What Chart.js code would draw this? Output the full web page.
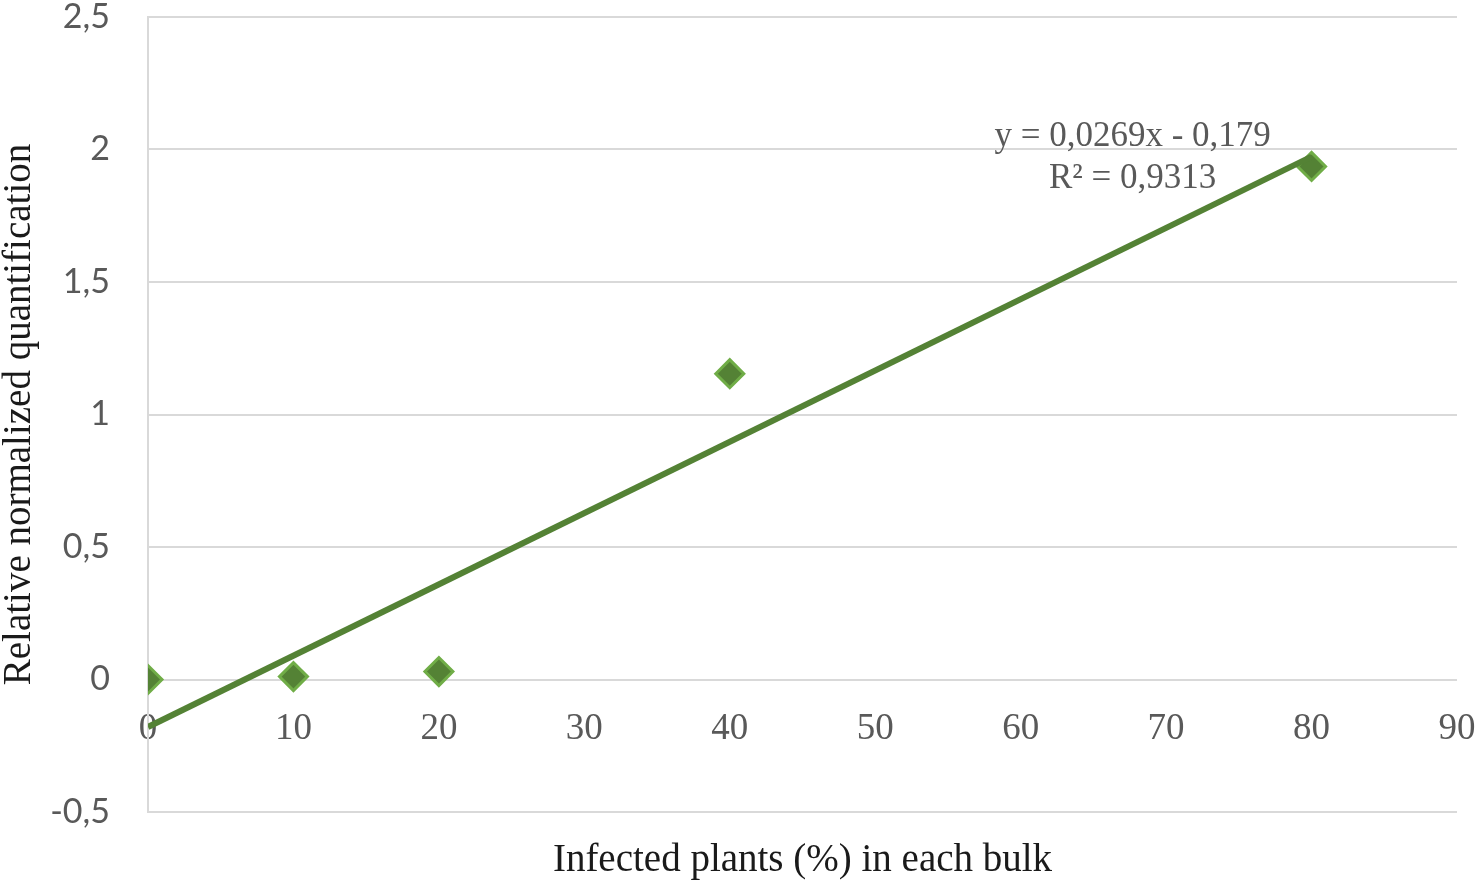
<!DOCTYPE html>
<html>
<head>
<meta charset="utf-8">
<script src="https://cdn.jsdelivr.net/npm/chart.js@4/dist/chart.umd.min.js"></script>
<style>
html,body{margin:0;padding:0;background:#fff;}
#wrap{width:1476px;height:880px;position:relative;}
</style>
</head>
<body>
<div id="wrap"><canvas id="c"></canvas></div>
<script>
// ---- data ----
const xValues = [0, 10, 20, 40, 80];
const yValues = [0, 0.011, 0.03, 1.154, 1.936];
const trendSlope = 0.0269;
const trendIntercept = -0.179;
const trendRange = [0, 80];
const xTickLabels = ['0','10','20','30','40','50','60','70','80','90'];
const yTickLabels = ['-0,5','0','0,5','1','1,5','2','2,5'];
const eqLines = ['y = 0,0269x - 0,179', 'R\u00B2 = 0,9313'];
const eqAnchor = {x: 67.7, y: [2.049, 1.891]};
const xTitle = 'Infected plants (%) in each bulk';
const yTitle = 'Relative normalized quantification';

const points = xValues.map((x, i) => ({x: x, y: yValues[i]}));
const trend = trendRange.map(x => ({x: x, y: trendSlope * x + trendIntercept}));

const SERIF = '"Liberation Serif", "Times New Roman", serif';

const eqPlugin = {
  id: 'eqLabel',
  afterDatasetsDraw(chart) {
    const ctx = chart.ctx, xs = chart.scales.x, ys = chart.scales.y;
    ctx.save();
    ctx.font = '35px ' + SERIF;
    ctx.fillStyle = '#595959';
    ctx.textAlign = 'center';
    ctx.textBaseline = 'middle';
    eqLines.forEach((t, i) => {
      ctx.fillText(t, xs.getPixelForValue(eqAnchor.x), ys.getPixelForValue(eqAnchor.y[i]));
    });
    ctx.restore();
  }
};

new Chart(document.getElementById('c'), {
  type: 'scatter',
  data: {
    datasets: [
      {
        type: 'line',
        data: trend,
        borderColor: '#548235',
        borderWidth: 6,
        pointRadius: 0,
        fill: false,
        tension: 0
      },
      {
        type: 'scatter',
        data: points,
        pointStyle: 'rectRot',
        pointRadius: 14,
        pointBackgroundColor: '#548235',
        pointBorderColor: '#70AD47',
        pointBorderWidth: 3
      }
    ]
  },
  options: {
    responsive: true,
    maintainAspectRatio: false,
    animation: false,
    events: [],
    layout: {padding: {top: 14, right: 19, left: 0, bottom: 0}},
    plugins: {
      legend: {display: false},
      tooltip: {enabled: false},
      title: {
        display: true,
        position: 'bottom',
        fullSize: false,
        text: xTitle,
        color: '#1a1a1a',
        font: {family: SERIF, size: 39, weight: 'normal', lineHeight: 1.0},
        padding: {top: 29, bottom: 0}
      }
    },
    scales: {
      x: {
        type: 'linear',
        position: {y: 0},
        min: 0, max: 90,
        grid: {display: true, drawOnChartArea: false, drawTicks: true, tickLength: 28, tickColor: 'rgba(0,0,0,0)'},
        border: {display: false},
        ticks: {
          stepSize: 10,
          padding: 0,
          color: '#595959',
          font: {family: SERIF, size: 37},
          callback: (v, i) => xTickLabels[i]
        }
      },
      y: {
        type: 'linear',
        min: -0.5, max: 2.5,
        grid: {color: '#d9d9d9', lineWidth: 2, drawTicks: true, tickLength: 38, tickColor: 'rgba(0,0,0,0)'},
        border: {display: true, color: '#d9d9d9', width: 2},
        ticks: {
          stepSize: 0.5,
          padding: 0,
          color: '#595959',
          font: {family: 'Lato', size: 34, lineHeight: 0.8},
          callback: (v, i) => yTickLabels[i]
        },
        title: {
          display: true,
          text: yTitle,
          color: '#1a1a1a',
          font: {family: SERIF, size: 39, lineHeight: 1.0},
          padding: {top: 0, bottom: 0}
        },
        afterFit: (s) => { s.width = 148; }
      }
    }
  },
  plugins: [eqPlugin]
});
</script>
</body>
</html>
